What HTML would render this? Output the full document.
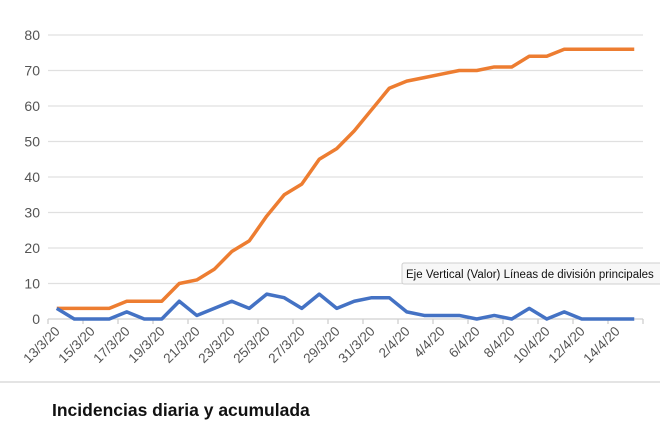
<!DOCTYPE html>
<html><head><meta charset="utf-8"><style>
body{margin:0;background:#fff;width:660px;height:440px;overflow:hidden;font-family:"Liberation Sans",sans-serif}
</style></head><body>
<svg width="660" height="440" xmlns="http://www.w3.org/2000/svg">
<line x1="0" y1="382" x2="660" y2="382" stroke="#e4e4e4" stroke-width="2"/>
<g id="grid"></g><g id="xaxis"></g><g id="series"></g>
<g>
<rect x="402" y="263" width="262" height="21" fill="#f7f7f7" stroke="#cfcfcf" rx="2"/>
<text x="406" y="278" font-size="11.5" fill="#111">Eje Vertical (Valor)  Líneas de división principales</text>
</g>
<text x="52" y="416" font-size="17.5" font-weight="bold" fill="#111">Incidencias diaria y acumulada</text>
</svg>
<script>
const categories=["13/3/20","14/3/20","15/3/20","16/3/20","17/3/20","18/3/20","19/3/20","20/3/20","21/3/20","22/3/20","23/3/20","24/3/20","25/3/20","26/3/20","27/3/20","28/3/20","29/3/20","30/3/20","31/3/20","1/4/20","2/4/20","3/4/20","4/4/20","5/4/20","6/4/20","7/4/20","8/4/20","9/4/20","10/4/20","11/4/20","12/4/20","13/4/20","14/4/20","15/4/20"];
const daily=[3,0,0,0,2,0,0,5,1,3,5,3,7,6,3,7,3,5,6,6,2,1,1,1,0,1,0,3,0,2,0,0,0,0];
const cumulative=[3,3,3,3,5,5,5,10,11,14,19,22,29,35,38,45,48,53,59,65,67,68,69,70,70,71,71,74,74,76,76,76,76,76];
const yTicks=[0,10,20,30,40,50,60,70,80];
const NS="http://www.w3.org/2000/svg";
const x0=48,x1=643,y0=319,y1=35,yMax=80;
const bw=(x1-x0)/categories.length;
const xs=i=>x0+bw*(i+0.5);
const ys=v=>y0-(v/yMax)*(y0-y1);
function mk(t,a,p){const e=document.createElementNS(NS,t);for(const k in a)e.setAttribute(k,a[k]);p.appendChild(e);return e;}
const grid=document.getElementById('grid');
yTicks.forEach(v=>{
 const l=mk('line',{x1:x0,x2:x1,y1:ys(v),y2:ys(v),stroke:v===0?'#d0d0d0':'#e0e0e0','stroke-width':1.3},grid);
 
 
 const t=mk('text',{x:40,y:ys(v)+5,'text-anchor':'end','font-size':14,fill:'#555'},grid);
 t.textContent=v;
 
 
});
const xa=document.getElementById('xaxis');
for(let i=0;i<=categories.length;i+=2){
 const tk=mk('line',{x1:x0+bw*i,x2:x0+bw*i,y1:y0,y2:y0+5,stroke:'#d0d0d0','stroke-width':1.3},xa);
 
 
}
categories.forEach((c,i)=>{
 if(i%2)return;
 const t=mk('text',{x:xs(i)+4,y:332,'text-anchor':'end','font-size':13.5,fill:'#555',transform:`rotate(-45 ${xs(i)+4} 332)`},xa);
 t.textContent=c;
 
 
});
const sg=document.getElementById('series');
[[cumulative,'#ED7D31','cumulative-line'],[daily,'#4472C4','daily-line']].forEach(([d,col,n])=>{
 const p=mk('polyline',{points:d.map((v,i)=>xs(i)+','+ys(v)).join(' '),fill:'none',stroke:col,'stroke-width':3.5,'stroke-linejoin':'round'},sg);
 
 
});
</script>
</body></html>
